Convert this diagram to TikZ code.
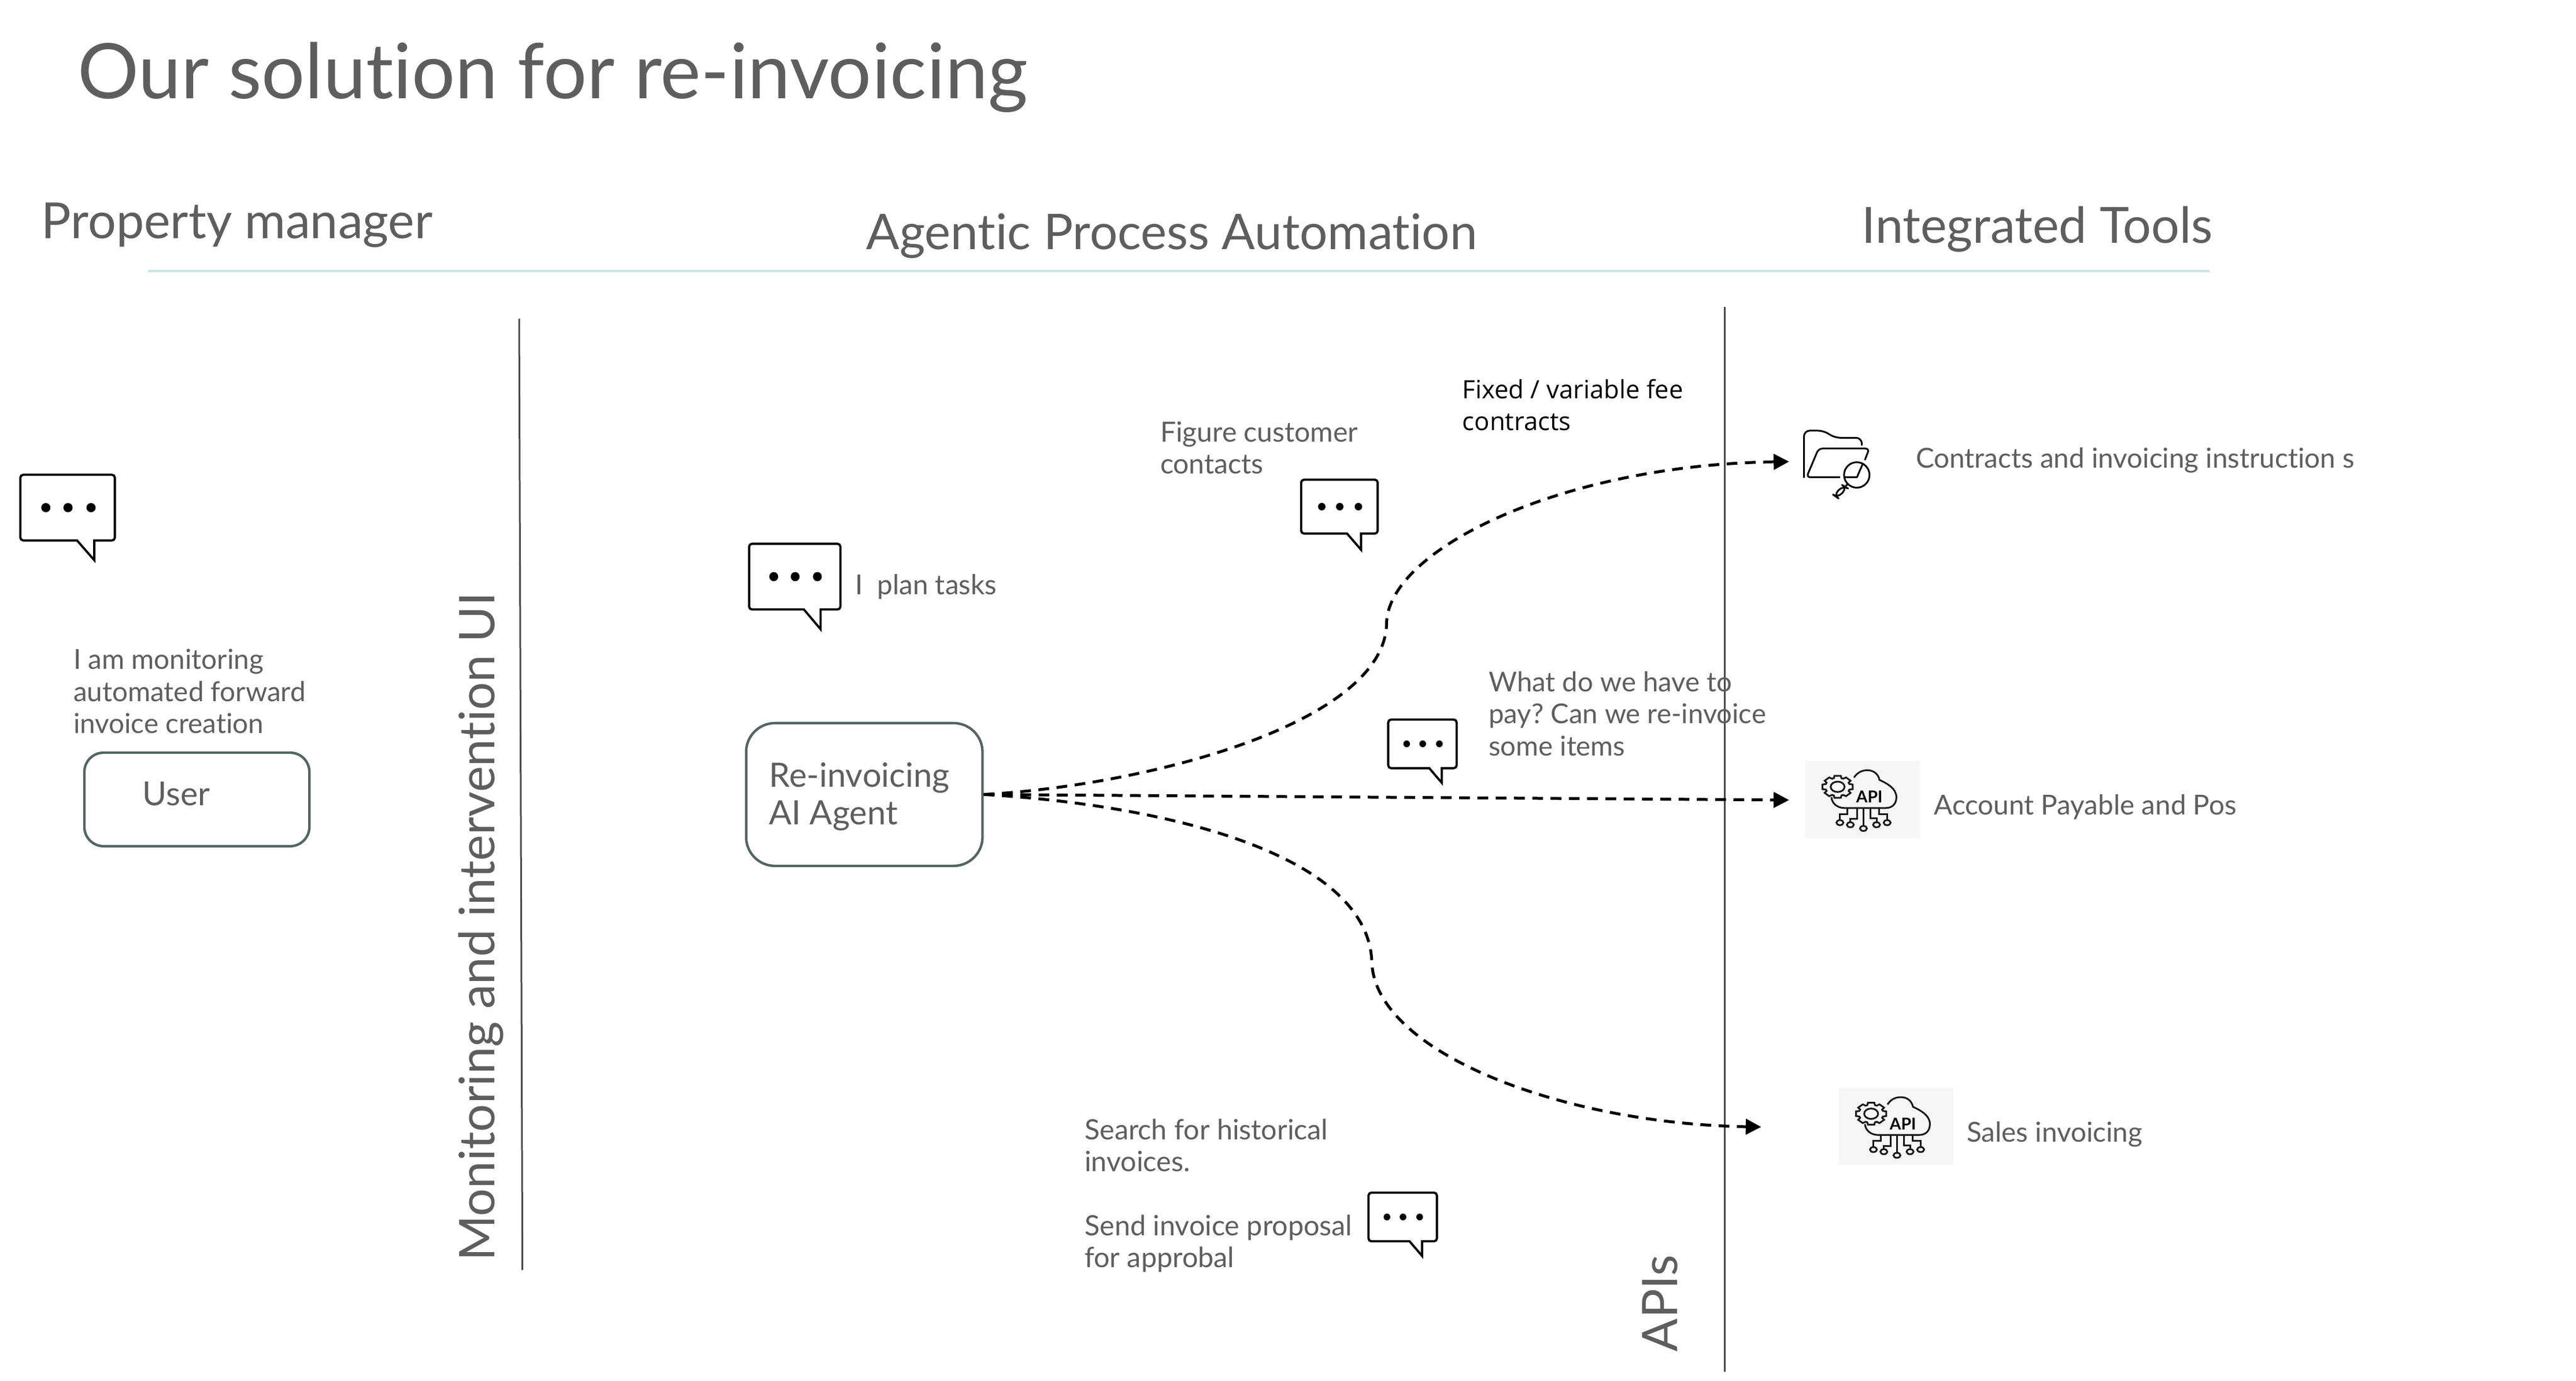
\documentclass[tikz,border=0pt]{standalone}
\usepackage{fontspec}
\setmainfont{Lato}[Ligatures={NoCommon}]
\newfontfamily\blackfont{Open Sans}
\usetikzlibrary{arrows.meta}
\definecolor{txt}{HTML}{5E5E5E}
\definecolor{boxline}{HTML}{546464}
\definecolor{tealline}{HTML}{C8E4E4}
\definecolor{rule}{HTML}{4A4A4A}
\definecolor{apibg}{HTML}{F6F6F6}
\newcommand\fs[1]{\fontsize{#1}{#1}\selectfont}
\tikzset{
  lbl/.style={inner sep=0pt,anchor=base west,text=txt,align=left,font=\frenchspacing\fontsize{14.3}{16.6}\selectfont},
  head/.style={inner sep=0pt,anchor=base west,text=txt,font=\fs{25.4}},
  agentbox/.style={draw=boxline,line width=1.3pt,rounded corners=#1,inner sep=0pt},
  flow/.style={draw=black,line width=1.5pt,dash pattern=on 5.6pt off 3.9pt,-{Triangle[length=8pt,width=8pt]}},
  icon/.style={line width=0.9pt,draw=black},
  bubbleshape/.pic={
    \draw[line width=1.15pt,fill=white,miter limit=10,rounded corners=1.5pt]
      (0,0) -- (57.5,0) -- (57.5,40) [sharp corners] -- (45,40) -- (45,52) -- (34.5,40) [rounded corners=1.5pt] -- (0,40) -- cycle;
    \foreach \u in {15.5,29,43}{\fill[black] (\u,20) ellipse (2.8 and 2.8);}
  },
  apiicon/.pic={
    \node[fill=apibg,minimum width=59.5pt,minimum height=40pt,inner sep=0pt,anchor=north west] (-bg) at (0,0) {};
    \begin{scope}[x=0.03cm/8.526,y=-0.03cm/8.526,shift={(-65,-72)},line width=0.9pt,draw=black!90]
      \draw (320,160) .. controls (340,130) and (365,122) .. (390,122)
        .. controls (425,122) and (447,145) .. (452,172)
        .. controls (490,190) and (540,215) .. (540,262)
        .. controls (540,300) and (515,318) .. (485,318) -- (270,318)
        .. controls (235,318) and (205,295) .. (203,262);
      \draw (235,208) ellipse (36 and 27);
      \draw[shift={(235,208)}] (-12:80 and 58) \foreach \a in {0,45,...,315}{
          -- (\a-12:80 and 58) -- (\a+12:80 and 58) -- (\a+18:64 and 47) -- (\a+27:64 and 47)} -- cycle;
      \node[font=\fontsize{8.5}{8.5}\selectfont\bfseries,text=black,inner sep=0pt] at (400,260) {API};
      \draw (285,320) -- (285,350) -- (245,350) -- (245,381);
      \draw (335,320) -- (335,375) -- (300,375) -- (300,392);
      \draw (370,320) -- (370,411);
      \draw (405,320) -- (405,372) -- (437,372) -- (437,392);
      \draw (450,320) -- (450,350) -- (492,350) -- (492,381);
      \draw (247,394) ellipse (18 and 13);
      \draw (301,405) ellipse (18 and 13);
      \draw (369,424) ellipse (18 and 13);
      \draw (437,405) ellipse (18 and 13);
      \draw (492,394) ellipse (18 and 13);
    \end{scope}
  },
  folderglass/.pic={
    \begin{scope}[x=0.03cm/8.526,y=-0.03cm/8.526,icon,line join=round]
      \draw[rounded corners=3pt] (212,380) -- (212,135) -- (315,135) -- (370,172) -- (512,172) -- (512,212);
      \draw[rounded corners=2pt] (528,288) -- (551,228) -- (288,228) -- (225,377) -- (400,377);
      \draw (420,377) -- (487,377) -- (518,305);
      \draw (486,365) circle (66);
      \draw (440,412) -- (428,422);
      \draw[rounded corners=3pt] (415,420) -- (435,432) -- (387,484) -- (367,470) -- cycle;
    \end{scope}
  }
}
\begin{document}
\begin{tikzpicture}[x=0.03cm,y=-0.03cm]
\useasboundingbox (0,0) rectangle (1568,840.6);
\fill[white] (0,0) rectangle (1568,840.6);

% titles
\node[head,font=\fs{39.8}] (title) at (47,60) {Our solution for re-invoicing};
\node[head,font=\fs{25.85}] (hpm) at (25,145) {Property manager};
\node[head,font=\fs{25.6}] (hapa) at (527,152) {Agentic Process Automation};
\node[head,font=\fs{25.9}] (hit) at (1133,148) {Integrated Tools};

% rules
\coordinate (t1) at (90,165); \coordinate (t2) at (1345,165);
\draw[tealline,line width=1pt] (t1) -- (t2);
\coordinate (r1) at (316,194); \coordinate (r2) at (318,773);
\draw[rule,line width=0.9pt] (r1) -- (r2);
\coordinate (r3) at (1050,187); \coordinate (r4) at (1050,835);
\draw[rule,line width=0.9pt] (r3) -- (r4);

\node[head,font=\fs{25.5},rotate=90] (mon) at (301,768) {Monitoring and intervention UI};
\node[head,rotate=90] (apis) at (1021,823) {APIs};

% boxes
\node[agentbox=10pt,minimum width=116.9pt,minimum height=48.6pt,anchor=north west] (user) at (50.6,457.4) {};
\node[lbl,font=\fs{17.2}] (usert) at (86.5,490.5) {User};
\node[agentbox=15pt,minimum width=122.8pt,minimum height=74.2pt,anchor=north west] (agent) at (453.4,439.4) {};
\node[lbl,font=\fontsize{17.4}{19.6}\selectfont] (agentt) at (468,502) {Re-invoicing\\AI Agent};

% bubbles
\pic[xscale=1,yscale=1] (b1) at (12.4,289) {bubbleshape};
\pic[xscale=0.966,yscale=1] (b2) at (456,331) {bubbleshape};
\pic[xscale=0.81,yscale=0.82] (b3) at (792,292) {bubbleshape};
\pic[xscale=0.724,yscale=0.74] (b4) at (845,438) {bubbleshape};
\pic[xscale=0.724,yscale=0.74] (b5) at (833,726) {bubbleshape};

% texts
\node[lbl] (mont) at (44.5,446.3) {I am monitoring\\automated forward\\invoice creation};
\node[lbl] (plan) at (520.5,362) {I\ \ plan tasks};
\node[lbl,font=\frenchspacing\fontsize{14.45}{16.6}\selectfont] (fig) at (706,288.5) {Figure customer\\contacts};
\node[lbl,text=black,font=\fontsize{13.1}{16.6}\blackfont\selectfont] (fixed) at (890,262) {Fixed / variable fee\\contracts};
\node[lbl,font=\frenchspacing\fontsize{14.2}{16.6}\selectfont] (what) at (906,460) {What do we have to\\pay? Can we re-invoice\\some items};
\node[lbl,font=\frenchspacing\fontsize{14.55}{16.6}\selectfont] (search) at (660,771.5) {Search for historical\\invoices.\\[16.6pt]Send invoice proposal\\for approbal};
\node[lbl] (cont) at (1166,285) {Contracts and invoicing instruction s};
\node[lbl] (acc) at (1177,496) {Account Payable and Pos};
\node[lbl] (sal) at (1197,695) {Sales invoicing};

% icons
\pic (folder) at (1073.2,246.3) {folderglass};
\pic (api1) at (1098.6,463) {apiicon};
\pic (api2) at (1119,662) {apiicon};

% connectors
\coordinate (e1) at (1089,281);
\coordinate (e2) at (1089,487);
\coordinate (e3) at (1072,686);
\draw[flow] (agent.east) .. controls (700,478) and (842,440) .. (844,380) .. controls (844,335) and (950,283) .. (e1);
\draw[flow] (agent.east) -- (e2);
\draw[flow] (agent.east) .. controls (710,490) and (832,520) .. (835,585) .. controls (836,640) and (950,684) .. (e3);
\end{tikzpicture}
\end{document}
